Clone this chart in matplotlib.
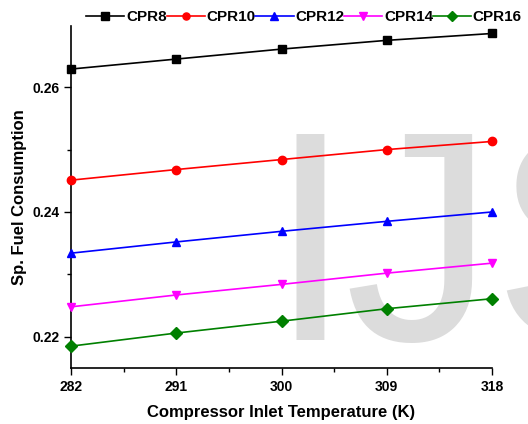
import matplotlib
matplotlib.use("Agg")
import matplotlib.pyplot as plt
from matplotlib.ticker import MultipleLocator, FixedLocator

plt.rcParams['font.family'] = ['Liberation Sans', 'DejaVu Sans']
plt.rcParams['font.weight'] = 'bold'

# compressor inlet temperature (K)
temps = [282, 291, 300, 309, 318]
minor_temps = [286.5, 295.5, 304.5, 313.5]

# specific fuel consumption for each compressor pressure ratio
cpr8 = [0.2629, 0.2645, 0.2661, 0.2675, 0.2686]
cpr10 = [0.2451, 0.2468, 0.2484, 0.2500, 0.2513]
cpr12 = [0.2334, 0.2352, 0.2369, 0.2385, 0.2400]
cpr14 = [0.2248, 0.2267, 0.2284, 0.2302, 0.2318]
cpr16 = [0.2185, 0.2206, 0.2225, 0.2245, 0.2261]

labels = ['CPR8', 'CPR10', 'CPR12', 'CPR14', 'CPR16']
series = [cpr8, cpr10, cpr12, cpr14, cpr16]
colors = ['black', 'red', 'blue', 'magenta', 'green']
markers = ['s', 'o', '^', 'v', 'D']

fig = plt.figure(figsize=(5.28, 4.24), dpi=100)
ax = fig.add_axes([71/528, 56/424, 421/528, 342/424])
ax.patch.set_visible(False)

# watermark behind the plot
fig.text(269/528, 84/424, 'I', fontsize=215, color='#dcdcdc',
         fontweight='normal', zorder=-1)
fig.text(344/528, 84/424, 'JS', fontsize=215, color='#dcdcdc',
         fontweight='normal', zorder=-1)

for vals, lab, c, m in zip(series, labels, colors, markers):
    ax.plot(temps, vals, color=c, marker=m, markersize=6, linewidth=1.2,
            label=lab, clip_on=False, zorder=3)

ax.set_xlim(282, 318)
ax.set_ylim(0.215, 0.2698)
ax.set_xticks(temps)
ax.xaxis.set_minor_locator(FixedLocator(minor_temps))
ax.yaxis.set_major_locator(MultipleLocator(0.02))
ax.yaxis.set_minor_locator(MultipleLocator(0.01))
ax.tick_params(which='major', length=5, width=1, labelsize=10)
ax.tick_params(which='minor', length=3, width=1)
for s in ['top', 'right']:
    ax.spines[s].set_visible(False)
for s in ['left', 'bottom']:
    ax.spines[s].set_linewidth(1.2)

ax.set_xlabel('Compressor Inlet Temperature (K)', fontsize=12,
              fontweight='bold', labelpad=8)
ax.set_ylabel('Sp. Fuel Consumption', fontsize=12, fontweight='bold')

ax.legend(loc='center', bbox_to_anchor=(304/528, 1 - 17/424),
          bbox_transform=fig.transFigure, ncol=5, frameon=False,
          fontsize=11, handlelength=2.5, handletextpad=0.1, columnspacing=0.0,
          borderaxespad=0, markerscale=0.85)

fig.savefig('out.png', dpi=100)
